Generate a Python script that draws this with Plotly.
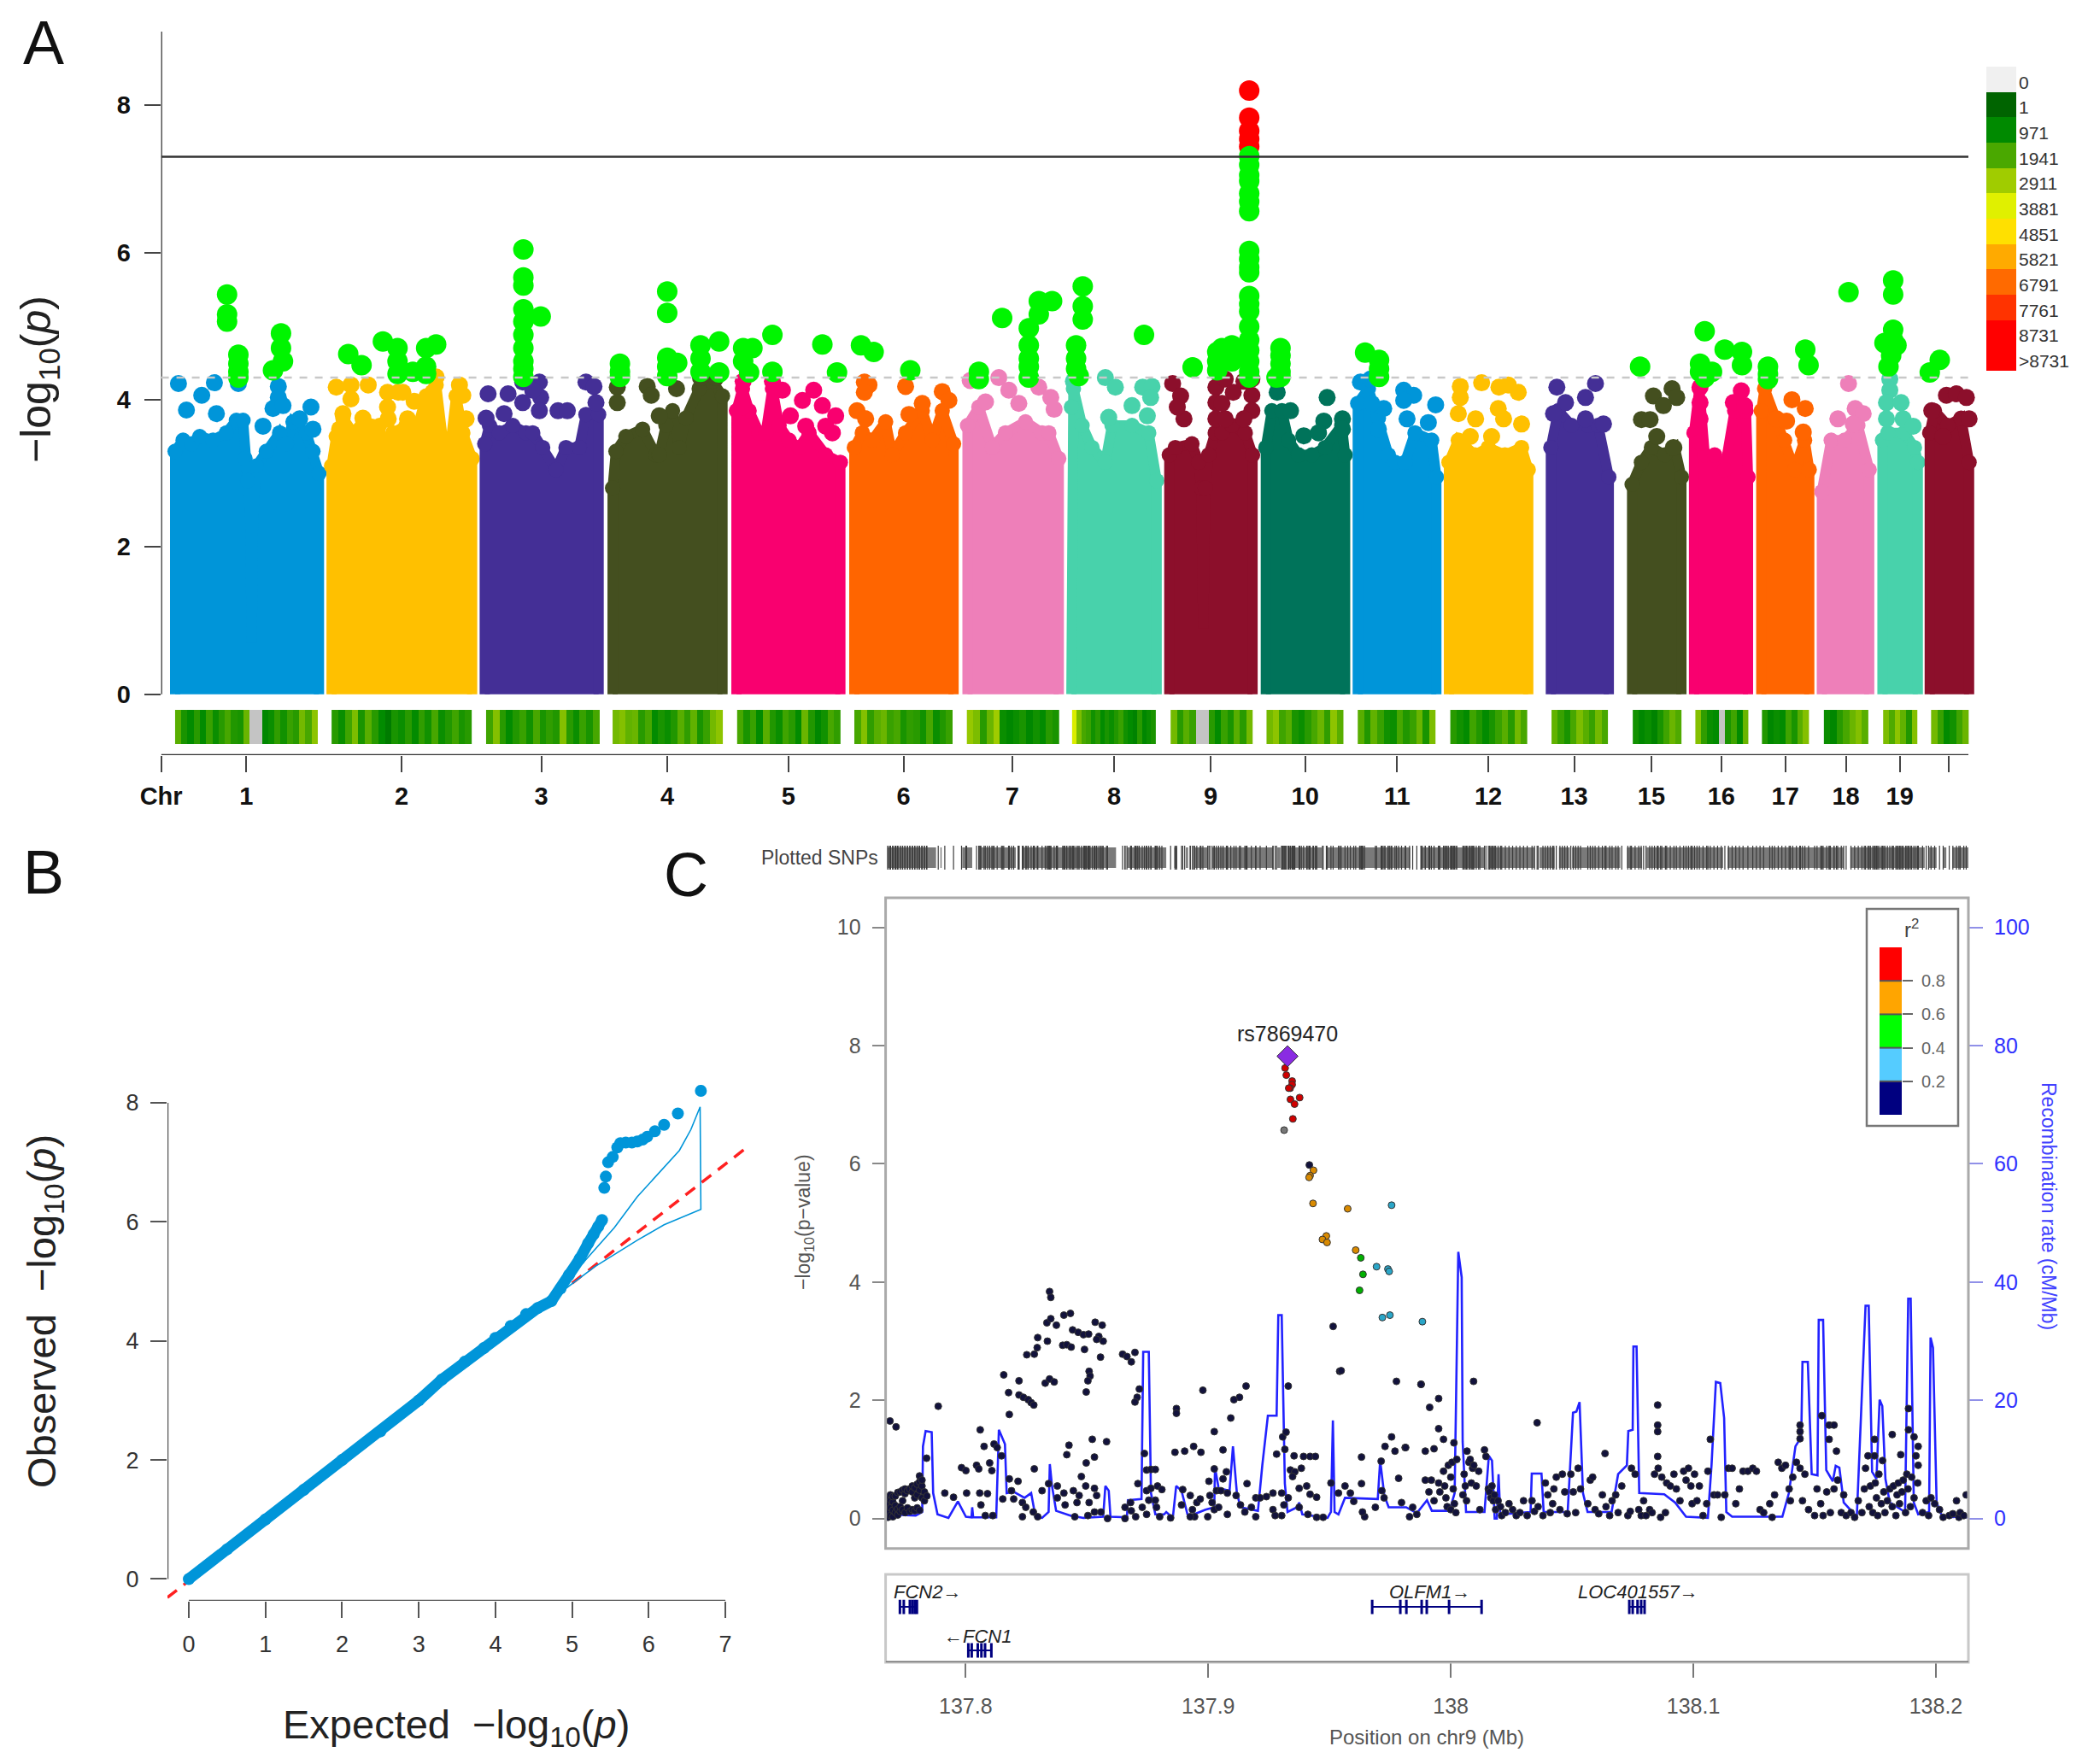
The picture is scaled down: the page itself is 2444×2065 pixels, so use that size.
import plotly.graph_objects as go

W, H = 2444, 2065

# ---------- panel A : manhattan ----------
chrom_labels = ["Chr", "1", "2", "3", "4", "5", "6", "7", "8", "9", "10", "11", "12", "13", "15", "16", "17", "18", "19", ""]
chrom_ticks = [242, 370, 603, 813, 1002, 1184, 1357, 1520, 1673, 1818, 1960, 2098, 2235, 2364, 2480, 2585, 2681, 2772, 2853, 2927]
chrom_colors = ["#0095D9", "#FFC000", "#442F96", "#444F1F", "#F9006F", "#FF6500", "#EE7FB9", "#48D2AB", "#8C0F2B", "#00735A",
                "#0095D9", "#FFC000", "#442F96", "#444F1F", "#F9006F", "#FF6500", "#EE7FB9", "#48D2AB", "#8C0F2B"]

env = [
    [(263, 0), (263, 3.3), (275, 3.45), (288, 3.4), (300, 3.5), (320, 3.45), (340, 3.55), (355, 3.72), (365, 3.72), (368, 3.2), (372, 2.9), (376, 2.4), (378, 0.7), (380, 2.4), (385, 3.1), (400, 3.3), (420, 3.55), (430, 3.4), (440, 3.7), (460, 3.55), (470, 3.3), (479, 3.0), (479, 0)],
    [(498, 0), (498, 3.1), (505, 3.5), (515, 3.75), (530, 3.55), (545, 3.7), (570, 3.65), (575, 3.35), (590, 3.55), (610, 3.65), (625, 3.55), (640, 4.05), (655, 4.2), (665, 3.45), (675, 3.25), (685, 4.05), (695, 3.55), (709, 3.2), (709, 0)],
    [(728, 0), (728, 3.4), (735, 3.65), (750, 3.55), (770, 3.65), (790, 3.55), (800, 3.55), (815, 3.35), (835, 3.05), (850, 3.35), (870, 3.35), (880, 3.8), (899, 3.8), (899, 0)],
    [(920, 0), (920, 2.8), (925, 3.3), (940, 3.5), (965, 3.6), (985, 3.25), (990, 3.25), (1000, 3.65), (1010, 3.85), (1020, 3.35), (1030, 3.75), (1050, 4.15), (1070, 4.25), (1085, 4.05), (1085, 0)],
    [(1106, 0), (1106, 3.85), (1115, 4.15), (1125, 3.85), (1140, 3.55), (1150, 3.55), (1160, 4.15), (1170, 3.65), (1185, 3.45), (1200, 3.35), (1215, 3.55), (1240, 3.25), (1262, 3.15), (1262, 0)],
    [(1283, 0), (1283, 3.35), (1295, 3.55), (1310, 3.45), (1330, 3.7), (1340, 3.25), (1360, 3.55), (1385, 3.85), (1400, 3.45), (1415, 3.85), (1432, 3.4), (1432, 0)],
    [(1453, 0), (1453, 3.65), (1470, 3.9), (1490, 3.35), (1510, 3.55), (1540, 3.7), (1565, 3.55), (1575, 3.55), (1590, 3.2), (1590, 0)],
    [(1609, 0), (1609, 3.9), (1612, 4.15), (1625, 3.65), (1640, 3.35), (1660, 3.15), (1670, 3.65), (1700, 3.65), (1725, 3.55), (1737, 2.9), (1737, 0)],
    [(1756, 0), (1756, 3.25), (1765, 3.35), (1790, 3.4), (1800, 3.15), (1804, 2.8), (1807, 0.9), (1810, 2.8), (1815, 3.25), (1825, 3.55), (1835, 3.55), (1850, 3.65), (1870, 3.55), (1881, 3.25), (1881, 0)],
    [(1901, 0), (1901, 3.35), (1910, 3.85), (1925, 3.85), (1935, 3.45), (1950, 3.25), (1970, 3.25), (1990, 3.35), (2015, 3.65), (2020, 3.25), (2020, 0)],
    [(2039, 0), (2039, 3.95), (2055, 4.15), (2070, 3.75), (2085, 3.25), (2095, 3.15), (2110, 3.15), (2125, 3.55), (2150, 3.45), (2157, 2.95), (2157, 0)],
    [(2176, 0), (2176, 3.15), (2190, 3.45), (2215, 3.25), (2235, 3.35), (2260, 3.25), (2285, 3.35), (2295, 3.05), (2295, 0)],
    [(2329, 0), (2329, 3.35), (2340, 3.85), (2360, 3.65), (2385, 3.65), (2400, 3.65), (2416, 2.95), (2416, 0)],
    [(2451, 0), (2451, 2.85), (2465, 3.15), (2480, 3.35), (2500, 3.25), (2515, 3.35), (2525, 2.95), (2525, 0)],
    [(2544, 0), (2544, 3.55), (2552, 4.15), (2560, 3.25), (2575, 3.25), (2590, 3.05), (2605, 3.85), (2622, 3.85), (2625, 2.95), (2625, 0)],
    [(2645, 0), (2645, 3.85), (2650, 4.15), (2665, 3.75), (2680, 3.45), (2695, 3.05), (2710, 3.45), (2717, 3.05), (2717, 0)],
    [(2736, 0), (2736, 2.75), (2750, 3.45), (2770, 3.45), (2790, 3.65), (2807, 3.05), (2807, 0)],
    [(2827, 0), (2827, 3.45), (2835, 3.55), (2860, 3.55), (2875, 3.35), (2880, 3.15), (2880, 0)],
    [(2898, 0), (2898, 3.55), (2905, 3.85), (2925, 3.65), (2945, 3.75), (2957, 3.15), (2957, 0)],
]

dots = [
    [(268, 4.22), (280, 3.86), (303, 4.06), (322, 4.23), (325, 3.81), (395, 3.64), (418, 4.18), (418, 4.03), (410, 3.88), (425, 3.92), (467, 3.9), (450, 3.74), (358, 4.22), (470, 3.6)],
    [(505, 4.17), (527, 4.2), (553, 4.2), (527, 4.01), (515, 3.81), (582, 4.1), (605, 4.1), (622, 3.98), (582, 3.9), (583, 3.74), (612, 3.74), (690, 4.2), (695, 4.06), (700, 3.74), (655, 4.31), (640, 3.74), (650, 4.1), (598, 4.1), (510, 3.6), (545, 3.75)],
    [(733, 4.08), (763, 4.08), (757, 3.81), (785, 4.24), (810, 4.24), (812, 4.03), (800, 4.13), (838, 3.85), (852, 3.85), (880, 4.24), (892, 4.18), (895, 3.96), (785, 3.96), (810, 3.85), (730, 3.75)],
    [(927, 4.17), (927, 3.96), (972, 4.18), (978, 4.06), (1016, 4.15), (990, 3.78), (1052, 4.3), (1075, 4.3)],
    [(1116, 4.25), (1175, 4.13), (1205, 3.99), (1222, 4.13), (1235, 3.92), (1187, 3.78), (1255, 3.78), (1210, 3.64), (1240, 3.64), (1160, 4.25), (1115, 3.9), (1250, 3.55)],
    [(1298, 4.24), (1305, 4.2), (1298, 4.1), (1287, 3.85), (1300, 3.74), (1360, 4.18), (1415, 4.11), (1425, 3.99), (1385, 3.95), (1365, 3.8)],
    [(1457, 4.26), (1500, 4.3), (1515, 4.13), (1480, 3.97), (1530, 3.95), (1560, 4.17), (1578, 4.03), (1583, 3.87)],
    [(1612, 4.25), (1660, 4.3), (1675, 4.17), (1716, 4.17), (1730, 4.18), (1700, 3.92), (1728, 4.03), (1665, 3.76), (1723, 3.78)],
    [(1761, 4.22), (1773, 4.05), (1778, 3.74), (1768, 3.9), (1826, 4.17), (1826, 3.96), (1826, 3.74), (1840, 4.28), (1852, 4.1), (1880, 4.28), (1880, 4.06), (1880, 3.85), (1868, 3.74), (1840, 3.74), (1835, 3.95), (1868, 4.25)],
    [(1918, 4.1), (1918, 4.25), (1938, 3.85), (1993, 4.03), (1988, 3.71), (1958, 3.51), (2016, 3.74), (2016, 3.6), (1980, 3.55)],
    [(2043, 4.24), (2058, 4.28), (2108, 4.13), (2123, 4.06), (2108, 3.99), (2156, 3.93), (2145, 3.69), (2078, 3.88), (2113, 3.74), (2060, 3.95), (2070, 3.6)],
    [(2193, 4.18), (2193, 4.03), (2225, 4.23), (2251, 4.17), (2265, 4.2), (2280, 4.1), (2250, 3.88), (2216, 3.74), (2258, 3.74), (2285, 3.67), (2190, 3.81), (2240, 3.5), (2208, 3.5)],
    [(2338, 4.17), (2396, 4.22), (2381, 4.03), (2351, 3.96), (2333, 3.81), (2381, 3.74), (2408, 3.67)],
    [(2483, 4.05), (2511, 4.15), (2518, 4.03), (2498, 3.92), (2465, 3.73), (2478, 3.73), (2488, 3.5), (2513, 3.35)],
    [(2553, 4.17), (2553, 3.96), (2553, 3.74), (2615, 4.12), (2603, 3.96), (2620, 3.92), (2553, 3.42)],
    [(2655, 4.25), (2691, 4.0), (2711, 3.88), (2668, 3.74), (2683, 3.71), (2708, 3.56)],
    [(2776, 4.22), (2760, 3.74), (2786, 3.88), (2798, 3.81), (2783, 3.67)],
    [(2838, 4.28), (2838, 4.13), (2833, 3.96), (2855, 3.96), (2858, 3.74), (2873, 3.64), (2833, 3.74)],
    [(2923, 4.06), (2938, 4.08), (2953, 4.03), (2901, 3.85), (2957, 3.74), (2918, 3.5)],
]

green_hits = [
    (341, 5.43), (341, 5.16), (341, 5.06), (358, 4.61), (358, 4.49), (358, 4.38), (358, 4.30), (422, 4.9), (422, 4.7), (425, 4.52), (410, 4.4),
    (523, 4.62), (543, 4.47), (575, 4.79), (597, 4.7), (597, 4.52), (597, 4.35), (620, 4.38), (640, 4.7), (655, 4.75), (640, 4.45), (640, 4.35),
    (786, 6.04), (786, 5.66), (786, 5.55), (786, 5.23), (786, 5.06), (812, 5.13), (786, 4.88), (786, 4.7), (786, 4.52), (786, 4.42), (786, 4.31),
    (931, 4.49), (931, 4.38), (931, 4.31), (1002, 5.47), (1002, 5.18), (1002, 4.57), (1002, 4.45), (1002, 4.32), (1017, 4.5), (1052, 4.74), (1052, 4.56), (1052, 4.38), (1080, 4.79), (1080, 4.37),
    (1116, 4.7), (1130, 4.7), (1116, 4.52), (1125, 4.37), (1160, 4.88), (1160, 4.38), (1235, 4.75), (1257, 4.37),
    (1293, 4.74), (1312, 4.65), (1367, 4.4),
    (1470, 4.38), (1470, 4.28), (1505, 5.11), (1545, 4.97), (1545, 4.74), (1545, 4.56), (1545, 4.45), (1545, 4.3), (1560, 5.34), (1560, 5.16), (1580, 5.34),
    (1626, 5.54), (1626, 5.27), (1626, 5.09), (1616, 4.74), (1616, 4.56), (1616, 4.42), (1620, 4.32), (1718, 4.88),
    (1791, 4.44), (1828, 4.65), (1828, 4.52), (1828, 4.4), (1835, 4.7), (1850, 4.74), (1850, 4.52), (1860, 4.6), (1868, 4.65),
    (1876, 7.31), (1876, 7.19), (1876, 7.05), (1876, 6.97), (1876, 6.8), (1876, 6.69), (1876, 6.56), (1876, 6.02), (1876, 5.91), (1876, 5.8), (1876, 5.73), (1876, 5.41), (1876, 5.3), (1876, 5.2), (1876, 4.99), (1876, 4.81), (1876, 4.67), (1876, 4.52), (1876, 4.38), (1876, 4.3),
    (1923, 4.7), (1923, 4.6), (1923, 4.49), (1923, 4.38), (1923, 4.31), (1917, 4.3),
    (2050, 4.64), (2071, 4.54), (2071, 4.42), (2071, 4.31),
    (2463, 4.45),
    (2560, 4.93), (2553, 4.49), (2553, 4.38), (2571, 4.38), (2560, 4.3), (2590, 4.68), (2616, 4.65), (2616, 4.47),
    (2655, 4.45), (2655, 4.35), (2655, 4.28), (2711, 4.68), (2716, 4.47),
    (2776, 5.46),
    (2843, 5.62), (2843, 5.43), (2843, 4.95), (2843, 4.81), (2830, 4.77), (2848, 4.74), (2840, 4.6), (2836, 4.45),
    (2913, 4.54), (2898, 4.37),
]
red_hits = [(1876, 8.2), (1876, 7.83), (1876, 7.65), (1876, 7.54), (1876, 7.44)]

# SNP density strip under the manhattan (one list per chromosome, gaps between them)
strip_span = [(263, 477), (498, 708), (730, 900), (920, 1086), (1107, 1262), (1283, 1431), (1452, 1590), (1610, 1736), (1758, 1881), (1902, 2018),
              (2039, 2156), (2178, 2294), (2330, 2415), (2452, 2525), (2546, 2626), (2646, 2717), (2739, 2806), (2828, 2879), (2900, 2956)]
strip_density = [
    [2100, 1300, 1000, 1500, 1000, 1700, 1100, 1500, 1900, 1400, 1300, 2300, 0, 0, 900, 1100, 1600, 1200, 1700, 1500, 2400, 1900, 2700],
    [1500, 1100, 1800, 2500, 1300, 2100, 1500, 1000, 600, 1300, 1100, 1500, 1000, 1600, 1200, 1900, 1100, 1400, 1800, 1300, 1500],
    [1800, 2600, 1500, 1000, 1400, 1700, 1200, 1900, 1300, 1600, 1400, 2600, 1500, 1100, 1700, 1300, 1900],
    [2400, 2600, 2200, 2300, 1500, 1900, 1000, 1300, 1100, 1400, 2100, 1600, 2200, 1300, 1700, 2400, 2700],
    [1900, 1300, 1700, 1000, 2100, 1400, 1100, 1800, 1500, 1000, 2300, 1400, 900, 1200, 1900, 1600],
    [1900, 2600, 1600, 2100, 2300, 1700, 1900, 1300, 1600, 1500, 1200, 1900, 1100, 1400, 1700],
    [2800, 2500, 1500, 2300, 2900, 1100, 900, 1100, 1300, 900, 1200, 1000, 1500, 1300],
    [3800, 2500, 1900, 1700, 1200, 1500, 1000, 1300, 1100, 1400, 1700, 1200, 1000, 800, 1500, 900, 1100, 1300],
    [2400, 1500, 2100, 1700, 0, 0, 1500, 1000, 1700, 1300, 2100, 1500, 2400],
    [2400, 2700, 1800, 2100, 1300, 1100, 1500, 1900, 2300, 1600, 2700, 2100],
    [2100, 1400, 2200, 1700, 1200, 1100, 1900, 1400, 1700, 2300, 1300, 2500],
    [1500, 1200, 1000, 1800, 1400, 1000, 1300, 1700, 2100, 1500, 2400, 1900],
    [2200, 1700, 1300, 1900, 2500, 2100, 1700, 2400, 1900],
    [1200, 900, 1100, 800, 1300, 1800, 2300, 2000],
    [2600, 1600, 1100, 1000, 0, 1300, 1800, 1000, 2300],
    [1400, 900, 1100, 1000, 1800, 1300, 2100, 2600],
    [1100, 900, 1500, 1900, 2300, 2600, 2100],
    [2500, 2000, 2700, 2200, 1400, 2600],
    [2400, 1700, 1000, 1200, 1800, 2300],
]

level_values = [0, 1, 971, 1941, 2911, 3881, 4851, 5821, 6791, 7761, 8731, 9700]
level_colors = ["#f0f0f0", "#006400", "#008a00", "#4aa800", "#a0cc00", "#e0f000", "#ffe000", "#ffaa00", "#ff6a00", "#ff3300", "#ff0000", "#ff0000"]
level_labels = ["0", "1", "971", "1941", "2911", "3881", "4851", "5821", "6791", "7761", "8731", ">8731"]

# ---------- panel B : qq plot ----------
qq_exp = [0, 0.5, 1, 1.5, 2, 2.5, 3, 3.3, 3.6, 3.85, 4, 4.2, 4.4, 4.55, 4.73, 4.85, 4.96, 5.1, 5.21, 5.28, 5.34, 5.39,
          5.42, 5.44, 5.47, 5.53, 5.59, 5.63, 5.7, 5.78, 5.85, 5.92, 5.98, 6.08, 6.2, 6.38, 6.68]
qq_obs = [0, 0.5, 1, 1.5, 2, 2.48, 3.0, 3.35, 3.65, 3.88, 4.05, 4.25, 4.45, 4.55, 4.67, 4.88, 5.11, 5.38, 5.64, 5.79, 5.92, 6.03,
          6.57, 6.76, 7.0, 7.09, 7.25, 7.32, 7.33, 7.33, 7.35, 7.38, 7.43, 7.52, 7.63, 7.82, 8.2]
ci_exp = [4.7, 5.21, 5.55, 5.85, 6.15, 6.4, 6.55, 6.67, 6.68, 6.2, 5.85, 5.3, 4.7]
ci_obs = [4.67, 5.4, 5.9, 6.42, 6.85, 7.2, 7.55, 7.93, 6.21, 5.95, 5.69, 5.25, 4.67]

# ---------- panel C : regional plot ----------
lead_snp = (137.9327, 7.82)
r2_red = [(137.9317, 7.62), (137.9322, 7.5), (137.9346, 7.4), (137.9346, 7.34), (137.9338, 7.28), (137.9332, 7.28), (137.9339, 7.09), (137.9377, 7.12), (137.9356, 7.01), (137.9349, 6.76)]
r2_grey = [(137.9313, 6.57)]
r2_orange = [(137.9434, 5.89), (137.942, 5.8), (137.9416, 5.77), (137.9432, 5.33), (137.9575, 5.24), (137.9487, 4.78), (137.9471, 4.72), (137.949, 4.67), (137.9608, 4.54)]
r2_green = [(137.9629, 4.41), (137.9638, 4.13), (137.9624, 3.86)]
r2_cyan = [(137.9756, 5.3), (137.9694, 4.26), (137.9741, 4.22), (137.9746, 4.18), (137.9718, 3.4), (137.9749, 3.44), (137.9883, 3.33)]
r2_navy = [
    (137.9417, 5.98), (137.9515, 3.25), (137.9542, 2.49), (137.9548, 2.5), (137.933, 2.24), (137.9776, 2.32), (137.9878, 2.27),
    (137.7688, 1.65), (137.7713, 1.55), (137.7887, 1.9), (137.806, 1.5), (137.8076, 1.22), (137.8117, 1.26), (137.813, 1.2),
    (137.8157, 2.43), (137.822, 2.33), (137.8177, 2.13), (137.818, 1.76), (137.822, 2.09), (137.8238, 2.05), (137.8258, 2.01), (137.827, 1.96), (137.8281, 1.92),
    (137.8252, 2.77), (137.8283, 2.78), (137.8295, 2.89), (137.8297, 3.06), (137.8337, 3.0), (137.8346, 3.84), (137.8351, 3.74), (137.8335, 3.31), (137.8351, 3.38), (137.8374, 3.27),
    (137.8328, 2.29), (137.8346, 2.36), (137.8365, 2.31), (137.8405, 3.44), (137.8432, 3.47), (137.84, 2.93), (137.8417, 2.94), (137.8435, 2.9),
    (137.8441, 3.19), (137.8464, 3.15), (137.8486, 3.11), (137.8507, 3.12), (137.849, 2.86), (137.8534, 3.32), (137.8563, 3.27), (137.8549, 3.08), (137.8567, 3.0), (137.854, 3.03), (137.8556, 2.73),
    (137.8509, 2.49), (137.8513, 2.41), (137.8504, 2.33), (137.8497, 2.14), (137.8647, 2.78), (137.8698, 2.81), (137.8683, 2.65), (137.8665, 2.74),
    (137.8716, 2.19), (137.8707, 2.05), (137.8698, 1.97), (137.8869, 1.86), (137.8869, 1.78), (137.8978, 2.17), (137.9156, 2.24), (137.9129, 2.05), (137.9106, 2.01), (137.9093, 1.7), (137.9025, 1.47),
    (137.9877, 2.27), (137.9913, 1.88), (137.995, 2.03), (137.995, 1.52), (137.997, 1.34), (138.0013, 1.28), (137.9814, 1.2), (137.9895, 1.14), (137.9931, 1.18), (138.0067, 1.14), (138.0139, 1.16),
    (138.0094, 2.32), (138.0356, 1.62), (138.0636, 1.1), (138.0853, 1.92), (138.0853, 1.58), (138.0853, 1.47), (138.0853, 1.05), (138.107, 1.34), (138.153, 1.74), (138.156, 1.58), (138.158, 1.58),
    (138.156, 1.34), (138.159, 1.14), (138.144, 1.58), (138.144, 1.47), (138.144, 1.35), (138.1887, 1.86), (138.1887, 1.5), (138.191, 1.38), (138.182, 1.42), (138.1747, 1.34), (138.1855, 1.08),
    (138.1927, 1.22), (138.1918, 1.06), (138.1927, 0.9), (138.172, 1.06), (138.1747, 1.06), (138.178, 0.98),
]
r2_navy_low = [
    (137.768, 0.02), (137.768, 0.12), (137.768, 0.25), (137.768, 0.35), (137.769, 0.05), (137.769, 0.18), (137.769, 0.31), (137.769, 0.4), (137.77, 0.03), (137.77, 0.14), (137.77, 0.28), (137.77, 0.37),
    (137.771, 0.1), (137.771, 0.22), (137.771, 0.38), (137.772, 0.06), (137.772, 0.16), (137.772, 0.44), (137.773, 0.12), (137.773, 0.45), (137.773, 0.2), (137.774, 0.15), (137.774, 0.3), (137.774, 0.48),
    (137.775, 0.1), (137.775, 0.42), (137.775, 0.5), (137.776, 0.18), (137.776, 0.47), (137.777, 0.12), (137.777, 0.5), (137.778, 0.15), (137.778, 0.45), (137.778, 0.55), (137.779, 0.13), (137.779, 0.35), (137.779, 0.52),
    (137.78, 0.18), (137.78, 0.4), (137.78, 0.58), (137.781, 0.14), (137.781, 0.48), (137.781, 0.62), (137.781, 0.72), (137.782, 0.35), (137.782, 0.55), (137.782, 0.65), (137.783, 0.3), (137.783, 0.45), (137.7839, 1.02), (137.784, 0.38),
    (137.7914, 0.43), (137.795, 0.36), (137.8004, 0.43), (137.7983, 0.86), (137.8001, 0.81), (137.8045, 0.9), (137.8054, 0.84), (137.8099, 0.94), (137.8108, 0.81), (137.8058, 0.43), (137.809, 0.42), (137.8063, 0.23), (137.8081, 0.05), (137.8112, 0.05),
    (137.8148, 1.06), (137.8153, 0.33), (137.818, 0.67), (137.8216, 0.63), (137.8189, 0.47), (137.8198, 0.33), (137.8283, 0.84), (137.8234, 0.27), (137.8248, 0.19), (137.8234, 0.03), (137.8279, 0.11), (137.8297, 0.03),
    (137.8315, 0.47), (137.8342, 0.59), (137.8378, 0.55), (137.8378, 0.35), (137.8405, 0.43), (137.8417, 1.08), (137.8426, 1.24), (137.8410, 0.23), (137.8444, 0.47), (137.8459, 0.27), (137.845, 0.03), (137.8468, 0.39),
    (137.8477, 0.71), (137.8495, 0.55), (137.8497, 0.94), (137.8522, 1.34), (137.8531, 1.04), (137.8581, 1.3), (137.8531, 0.51), (137.854, 0.39), (137.8509, 0.27), (137.8531, 0.11), (137.8504, 0.05), (137.8558, 0.11), (137.8585, 0.0),
    (137.8657, 0.19), (137.8657, 0.0), (137.868, 0.27), (137.8683, 0.13), (137.871, 0.59), (137.8728, 0.19), (137.8701, 0.03), (137.8737, 1.1), (137.8746, 0.82), (137.8764, 0.83), (137.8782, 0.83), (137.8746, 0.47), (137.8764, 0.51), (137.8791, 0.55),
    (137.8809, 0.49), (137.8782, 0.31), (137.8755, 0.31), (137.8787, 0.19), (137.8746, 0.07), (137.88, 0.03), (137.8845, 0.01), (137.8863, 1.12), (137.8903, 1.14), (137.894, 1.22), (137.897, 1.12),
    (137.8895, 0.49), (137.889, 0.23), (137.8926, 0.39), (137.8935, 0.15), (137.8944, 0.03), (137.8953, 0.27), (137.8967, 0.33), (137.8926, 0.03), (137.9003, 0.63), (137.9025, 0.84), (137.9034, 0.47), (137.9007, 0.39), (137.9016, 0.27), (137.9025, 0.15), (137.8998, 0.03),
    (137.9061, 1.16), (137.9061, 0.67), (137.9075, 0.79), (137.9052, 0.47), (137.9079, 0.43), (137.9043, 0.19), (137.9079, 0.07), (137.9115, 0.39), (137.9133, 0.23), (137.916, 0.59), (137.9151, 0.11), (137.9178, 0.19), (137.9196, 0.35), (137.9214, 0.35), (137.9196, 0.03),
    (137.924, 0.37), (137.9267, 0.43), (137.9267, 0.15), (137.9276, 0.05), (137.9307, 1.38), (137.9321, 1.46), (137.9316, 1.17), (137.9282, 1.09), (137.9354, 1.06), (137.9393, 1.05), (137.942, 1.05), (137.9442, 1.05),
    (137.9303, 0.43), (137.933, 0.35), (137.9339, 0.82), (137.9357, 0.79), (137.9384, 0.85), (137.9348, 0.71), (137.9375, 0.51), (137.9406, 0.55), (137.942, 0.41), (137.9447, 0.36), (137.9312, 0.23), (137.9303, 0.05), (137.9375, 0.19), (137.9411, 0.07), (137.9447, 0.02), (137.9474, 0.02),
    (137.9506, 0.6), (137.9537, 0.43), (137.9564, 0.55), (137.9586, 0.43), (137.96, 0.29), (137.9632, 0.59), (137.9632, 1.04), (137.9645, 0.03), (137.9636, 0.11), (137.9729, 1.22), (137.9756, 1.38), (137.977, 1.14), (137.9812, 1.2), (137.9785, 0.68), (137.9713, 0.97),
    (137.9716, 0.47), (137.9689, 0.19), (137.9725, 0.35), (137.9797, 0.27), (137.986, 0.07), (137.983, 0.03), (137.9843, 0.19),
    (137.9895, 0.65), (137.991, 0.45), (137.992, 0.65), (137.9931, 0.3), (137.995, 0.6), (137.9955, 0.45), (137.997, 0.8), (137.9975, 0.55), (137.998, 0.35), (137.9985, 0.2), (137.999, 0.9), (138.0, 0.7), (138.0, 0.15), (138.0005, 0.95), (138.001, 0.5), (138.0015, 0.25), (138.0021, 0.1), (138.0025, 1.0),
    (138.005, 0.4), (138.0055, 0.75), (138.006, 0.55), (138.0065, 0.3), (138.0075, 0.95), (138.008, 1.0), (138.0085, 0.6), (138.009, 0.85), (138.0095, 0.9), (138.0105, 0.55), (138.0115, 0.8), (138.012, 0.15),
    (138.0145, 1.05), (138.0155, 0.5), (138.016, 0.45), (138.0165, 0.35), (138.017, 0.55), (138.0175, 0.3), (138.018, 0.4), (138.0185, 0.15), (138.0195, 0.3), (138.0205, 0.2), (138.021, 0.05), (138.0225, 0.1), (138.024, 0.25), (138.0255, 0.15), (138.027, 0.05), (138.0285, 0.1), (138.03, 0.3), (138.0315, 0.05),
    (138.0335, 0.3), (138.0345, 0.12), (138.036, 0.2), (138.038, 0.05), (138.039, 0.6), (138.04, 0.4), (138.041, 0.1), (138.042, 0.25), (138.0425, 0.5), (138.0435, 0.7), (138.045, 0.15), (138.046, 0.75), (138.047, 0.45), (138.048, 0.08), (138.0495, 0.75), (138.0505, 0.45), (138.0515, 0.1), (138.0525, 0.85), (138.0535, 0.5),
    (138.0565, 0.25), (138.0575, 0.65), (138.0585, 0.7), (138.0595, 0.15), (138.061, 0.08), (138.0625, 0.4), (138.064, 0.2), (138.0655, 0.05), (138.0665, 0.3), (138.068, 0.4), (138.069, 0.1), (138.0705, 0.55),
    (138.073, 0.05), (138.074, 0.12), (138.0745, 0.85), (138.076, 0.75), (138.0775, 0.15), (138.0785, 0.05), (138.0795, 0.3), (138.0805, 0.05), (138.082, 0.15), (138.083, 0.1), (138.084, 0.75), (138.0855, 0.85), (138.0865, 0.02), (138.087, 0.7), (138.0885, 0.1),
    (138.089, 0.6), (138.0905, 0.55), (138.092, 0.75), (138.093, 0.5), (138.0945, 0.3), (138.096, 0.8), (138.097, 0.65), (138.098, 0.85), (138.099, 0.55), (138.0995, 0.25), (138.1005, 0.75), (138.1015, 0.3), (138.1025, 0.55), (138.104, 0.05), (138.1055, 0.25), (138.106, 0.8),
    (138.1085, 0.4), (138.11, 0.4), (138.1115, 0.02), (138.113, 0.4), (138.1145, 0.85), (138.116, 0.85), (138.1175, 0.25), (138.119, 0.5), (138.1205, 0.8), (138.1225, 0.8), (138.1245, 0.85), (138.126, 0.8), (138.1275, 0.15), (138.129, 0.1),
    (138.1315, 0.25), (138.1325, 0.02), (138.1335, 0.4), (138.135, 0.95), (138.1365, 0.85), (138.138, 0.9), (138.1395, 0.5), (138.14, 0.3), (138.141, 0.7), (138.1425, 0.95), (138.144, 0.85), (138.145, 0.3), (138.146, 0.75), (138.1475, 0.15),
    (138.15, 0.05), (138.151, 0.5), (138.1525, 0.25), (138.1535, 0.05), (138.155, 0.45), (138.1565, 0.1), (138.158, 0.5), (138.1595, 0.65), (138.161, 0.1), (138.162, 0.4), (138.163, 0.05), (138.165, 0.1), (138.1665, 0.02),
    (138.168, 0.3), (138.1695, 0.1), (138.1705, 0.5), (138.171, 0.85), (138.1725, 0.2), (138.173, 0.55), (138.174, 0.1), (138.175, 0.6), (138.1755, 0.35), (138.176, 0.05), (138.1765, 0.75), (138.1775, 0.25), (138.1785, 0.45), (138.179, 0.1), (138.18, 0.3),
    (138.181, 0.5), (138.182, 0.2), (138.1825, 0.55), (138.1835, 0.05), (138.184, 0.4), (138.1845, 0.6), (138.185, 0.25), (138.186, 0.45), (138.1865, 0.65), (138.1875, 0.1), (138.188, 0.75), (138.1885, 0.5), (138.1895, 0.2), (138.19, 0.7), (138.191, 0.35), (138.1925, 0.6),
    (138.1945, 0.1), (138.196, 0.3), (138.197, 0.05), (138.198, 0.35), (138.1995, 0.25), (138.2015, 0.15), (138.203, 0.02), (138.2055, 0.05), (138.207, 0.08), (138.2085, 0.3), (138.2095, 0.02), (138.21, 0.1), (138.2115, 0.05), (138.2125, 0.4),
]

recomb_mb = [
    137.7672, 137.7749, 137.7794, 137.7821, 137.7824, 137.7835, 137.786, 137.7866, 137.7884, 137.7929, 137.7968, 137.8001, 137.8024, 137.8027, 137.8031, 137.8126, 137.8137, 137.8162, 137.8169, 137.8198,
    137.8243, 137.827, 137.8288, 137.8315, 137.8342, 137.8347, 137.8356, 137.8373, 137.8432, 137.8486, 137.8567, 137.8576, 137.859, 137.8597, 137.8665, 137.8669, 137.8725, 137.8732, 137.8755, 137.8764,
    137.8782, 137.8818, 137.8827, 137.8854, 137.8868, 137.889, 137.8917, 137.8989, 137.9025, 137.9028, 137.9043, 137.9088, 137.9102, 137.9118, 137.9133, 137.9205, 137.9223, 137.9246, 137.9282, 137.9289,
    137.9303, 137.9316, 137.9327, 137.9366, 137.9375, 137.9388, 137.9492, 137.9506, 137.9514, 137.9521, 137.9537, 137.9564, 137.9699, 137.9709, 137.9726, 137.9744, 137.9816, 137.986, 137.9902, 137.9922,
    137.9995, 138.0016, 138.0031, 138.0045, 138.0049, 138.0063, 138.0139, 138.0157, 138.017, 138.0181, 138.019, 138.0197, 138.0204, 138.0329, 138.0334, 138.0374, 138.0383, 138.0482, 138.0504, 138.0518,
    138.0531, 138.0545, 138.0564, 138.0663, 138.069, 138.0726, 138.0732, 138.075, 138.0753, 138.0766, 138.0777, 138.088, 138.0925, 138.097, 138.106, 138.1075, 138.1093, 138.1111, 138.1127, 138.1136,
    138.116, 138.1367, 138.1394, 138.1421, 138.1445, 138.145, 138.1472, 138.1488, 138.1512, 138.1517, 138.1535, 138.1548, 138.1575, 138.1587, 138.1602, 138.162, 138.1674, 138.171, 138.1723, 138.1737,
    138.1755, 138.1768, 138.1779, 138.1792, 138.181, 138.1873, 138.1886, 138.1896, 138.1909, 138.1927, 138.1972, 138.1978, 138.1988, 138.2003, 138.2026, 138.2135,
]
recomb_rate = [
    0.7, 0.6, 0.5, 1.1, 12.2, 14.8, 14.6, 4.3, 0.7, 0.1, 2.9, 0.3, 0.2, 1.9, 0.2, 0.2, 15.0, 12.6, 4.3, 4.5,
    3.5, 4.3, 0.3, 0.1, 1.1, 9.2, 5.5, 1.3, 0.5, 0.1, 0.3, 5.5, 4.7, 0.3, 0.2, 3.1, 3.3, 28.2, 28.2, 4.3,
    0.7, 0.7, 1.1, 0.1, 5.5, 4.7, 0.3, 1.5, 1.9, 8.6, 5.1, 4.7, 12.2, 4.4, 1.9, 1.3, 9.0, 17.4, 17.4, 34.4,
    34.4, 5.9, 1.1, 1.9, 2.7, 0.7, 0.1, 1.1, 16.6, 1.1, 0.7, 3.5, 3.3, 9.8, 3.9, 1.9, 1.9, 0.9, 3.1, 1.3,
    1.3, 4.3, 45.1, 40.8, 13.0, 1.1, 1.1, 10.6, 9.8, 0.0, 0.0, 7.5, 0.7, 1.1, 7.6, 7.6, 1.1, 1.1, 17.9, 18.1,
    19.7, 4.3, 1.1, 1.1, 7.5, 9.0, 14.8, 15.0, 29.1, 29.1, 4.3, 4.1, 2.7, 0.3, 0.1, 9.0, 23.1, 22.9, 17.0, 1.1,
    0.3, 0.3, 4.3, 12.2, 13.8, 26.5, 26.5, 7.5, 7.3, 33.6, 33.6, 8.2, 6.3, 8.9, 8.6, 2.7, 0.3, 36.0, 36.0, 7.9,
    6.7, 20.1, 19.0, 6.7, 2.7, 1.1, 37.2, 37.2, 2.7, 0.7, 1.1, 30.6, 28.9, 2.7, 0.3, 0.2,
]

rug_start = [137.7677, 137.7896, 137.7914, 137.7932, 137.7959, 137.7974, 137.7986, 137.8063, 137.8234, 137.8665, 137.886, 137.8908, 137.8944, 137.9016, 137.9285, 137.9327, 137.9488, 137.9877, 138.0157, 138.0365, 138.0446, 138.05, 138.0726, 138.0807, 138.1141, 138.1647, 138.1972, 138.2032, 138.2068]
rug_end = [137.7878, 137.7901, 137.7918, 137.7936, 137.7963, 137.7978, 137.8027, 137.8207, 137.862, 137.8827, 137.8872, 137.8917, 137.8998, 137.9267, 137.9298, 137.9469, 137.9833, 138.0139, 138.0347, 138.0428, 138.0491, 138.0699, 138.0789, 138.1123, 138.162, 138.1954, 138.2003, 138.2043, 138.2135]

r2_edges = [0, 0.2, 0.4, 0.6, 0.8, 1.0]
r2_colors = ["#000080", "#55ccff", "#00ff00", "#ffa500", "#ff0000"]

genes = [
    ("FCN2", [(137.7729, 137.7799)], [137.7729, 137.7745, 137.777, 137.778, 137.779, 137.7799], 0.63),
    ("FCN1", [(137.8011, 137.8106)], [137.8011, 137.8025, 137.805, 137.8065, 137.808, 137.8106], 0.136),
    ("OLFM1", [(137.9676, 138.0127)], [137.9676, 137.9792, 137.9817, 137.988, 137.9901, 137.9993, 138.0127], 0.63),
    ("LOC401557", [(138.0736, 138.0799)], [138.0736, 138.075, 138.077, 138.0785, 138.0799], 0.63),
]


def dx(a, b):
    return [a / W, b / W]


def dy(top, bottom):
    return [1 - bottom / H, 1 - top / H]


fig = go.Figure()

# manhattan
for i, pts in enumerate(env):
    col = chrom_colors[i]
    fig.add_trace(go.Scatter(x=[p[0] for p in pts], y=[p[1] for p in pts], mode="lines", fill="toself", fillcolor=col,
                             line=dict(color=col, width=12), hoverinfo="skip", showlegend=False, xaxis="x", yaxis="y"))
    rim = [p for p in pts if p[1] > 2.6]
    fig.add_trace(go.Scatter(x=[p[0] for p in rim], y=[p[1] for p in rim], mode="markers",
                             marker=dict(color=col, size=18), hoverinfo="skip", showlegend=False, xaxis="x", yaxis="y"))
    fig.add_trace(go.Scatter(x=[p[0] for p in dots[i]], y=[p[1] for p in dots[i]], mode="markers",
                             marker=dict(color=col, size=20), hoverinfo="skip", showlegend=False, xaxis="x", yaxis="y"))
fig.add_trace(go.Scatter(x=[p[0] for p in red_hits], y=[p[1] for p in red_hits], mode="markers",
                         marker=dict(color="#ff0000", size=24), showlegend=False, xaxis="x", yaxis="y"))
fig.add_trace(go.Scatter(x=[p[0] for p in green_hits], y=[p[1] for p in green_hits], mode="markers",
                         marker=dict(color="#00f500", size=24), showlegend=False, xaxis="x", yaxis="y"))

strip_scale = [[0, "#c4c4c4"]] + [[v / 9700, c] for v, c in zip(level_values[1:], level_colors[1:])]
for span, vals in zip(strip_span, strip_density):
    step = (span[1] - span[0]) / len(vals)
    edges = [span[0] + step * k for k in range(len(vals) + 1)]
    fig.add_trace(go.Heatmap(x=edges, y=[-0.677, -0.213], z=[vals], zmin=0, zmax=9700, colorscale=strip_scale,
                             showscale=False, hoverinfo="skip", xaxis="x", yaxis="y"))

# colour key of panel A
fig.add_trace(go.Heatmap(x=[0], y=list(range(12)), z=[[k] for k in range(12)], zmin=0, zmax=11,
                         colorscale=[[k / 11, c] for k, c in enumerate(level_colors)], showscale=False,
                         hoverinfo="skip", xaxis="x2", yaxis="y2"))

# qq
fig.add_trace(go.Scatter(x=[-0.28, 7.25], y=[-0.31, 7.22], mode="lines", line=dict(color="#ff2020", width=3.5, dash="14px,10px"),
                         showlegend=False, xaxis="x3", yaxis="y3"))
fig.add_trace(go.Scatter(x=ci_exp, y=ci_obs, mode="lines", line=dict(color="#0095D9", width=1.6),
                         showlegend=False, xaxis="x3", yaxis="y3"))
fig.add_trace(go.Scatter(x=qq_exp[:22], y=qq_obs[:22], mode="lines", line=dict(color="#0095D9", width=13),
                         showlegend=False, xaxis="x3", yaxis="y3"))
fig.add_trace(go.Scatter(x=qq_exp, y=qq_obs, mode="markers", marker=dict(color="#0095D9", size=14),
                         showlegend=False, xaxis="x3", yaxis="y3"))

# recombination rate sits on the base axis so the SNPs draw over it
fig.add_trace(go.Scatter(x=recomb_mb, y=recomb_rate, mode="lines", line=dict(color="#2222ff", width=2.6),
                         showlegend=False, xaxis="x4", yaxis="y4"))
for pts, col in [(r2_navy_low, "#12123c"), (r2_navy, "#12123c"), (r2_grey, "#777777"), (r2_cyan, "#2aa6c8"), (r2_green, "#00b000"),
                 (r2_orange, "#d98a00"), (r2_red, "#d00000")]:
    fig.add_trace(go.Scatter(x=[p[0] for p in pts], y=[p[1] for p in pts], mode="markers",
                             marker=dict(color=col, size=8, line=dict(color="#333333", width=1)),
                             showlegend=False, xaxis="x4", yaxis="y5"))
fig.add_trace(go.Scatter(x=[lead_snp[0]], y=[lead_snp[1]], mode="markers",
                         marker=dict(color="#8a2be2", size=19, symbol="diamond", line=dict(color="#333333", width=1)),
                         showlegend=False, xaxis="x4", yaxis="y5"))

# plotted SNPs rug
rug_x, rug_y = [], []
for a, b in zip(rug_start, rug_end):
    rug_x += [a, b, None]
    rug_y += [0.5, 0.5, None]
fig.add_trace(go.Scatter(x=rug_x, y=rug_y, mode="lines", line=dict(color="#7a7a7a", width=24),
                         showlegend=False, xaxis="x5", yaxis="y6"))
all_snps = [p[0] for p in r2_navy_low + r2_navy + r2_red + r2_orange + r2_green + r2_cyan + r2_grey]
fig.add_trace(go.Scatter(x=all_snps, y=[0.5] * len(all_snps), mode="markers",
                         marker=dict(symbol="line-ns", size=24, line=dict(color="#3c3c3c", width=1.2)),
                         showlegend=False, xaxis="x5", yaxis="y6"))

# genes
for name, spans, exons, row in genes:
    fig.add_trace(go.Scatter(x=[spans[0][0], spans[0][1]], y=[row, row], mode="lines", line=dict(color="#000080", width=2),
                             showlegend=False, xaxis="x6", yaxis="y7"))
    fig.add_trace(go.Scatter(x=exons, y=[row] * len(exons), mode="markers",
                             marker=dict(symbol="line-ns", size=12, line=dict(color="#000080", width=3)),
                             showlegend=False, xaxis="x6", yaxis="y7"))

# r2 key
fig.add_trace(go.Heatmap(x=[0], y=r2_edges, z=[[k] for k in range(5)], zmin=0, zmax=4,
                         colorscale=[[k / 4, c] for k, c in enumerate(r2_colors)], showscale=False,
                         hoverinfo="skip", xaxis="x7", yaxis="y8"))

narrow = "Liberation Sans Narrow, Liberation Sans, Arial"
sans = "Liberation Sans, Arial"
off = dict(showgrid=False, zeroline=False)
hidden = dict(visible=False, showgrid=False, zeroline=False)
fig.update_layout(
    width=W, height=H, autosize=False, margin=dict(l=0, r=0, t=0, b=0, pad=0, autoexpand=False), paper_bgcolor="white", plot_bgcolor="white",
    showlegend=False, font=dict(family=sans, color="#222222"),
    xaxis=dict(domain=dx(188.6, 2326.6), range=[242, 2985], anchor="y", tickmode="array", tickvals=chrom_ticks, ticktext=chrom_labels,
               ticks="outside", ticklen=19, tickwidth=2, tickcolor="#444444", ticklabelstandoff=3,
               tickangle=0, tickfont=dict(family=narrow, size=29, color="#111111", weight="bold"), **off),
    yaxis=dict(domain=dy(37, 884), range=[-0.828, 9], anchor="x", tickmode="array", tickvals=[0, 2, 4, 6, 8],
               ticks="outside", ticklen=19, tickwidth=2, tickcolor="#444444", ticklabelstandoff=10,
               tickfont=dict(family=narrow, size=29, color="#111111", weight="bold"), **off),
    xaxis2=dict(domain=dx(2325, 2360), range=[-0.5, 0.5], anchor="y2", **hidden),
    yaxis2=dict(domain=dy(78, 434), range=[11.5, -0.5], anchor="x2", side="right", tickmode="array",
                tickvals=[k + 0.12 for k in range(12)], ticktext=level_labels, ticks="", ticklabelstandoff=2,
                tickfont=dict(family=sans, size=21, color="#333333"), **off),
    xaxis3=dict(domain=dx(196, 876), range=[-0.279, 7.3], anchor="y3", tickmode="array", tickvals=list(range(8)),
                ticks="outside", ticklen=19, tickwidth=2, tickcolor="#555555", ticklabelstandoff=8,
                tickfont=dict(size=27, color="#333333"), **off),
    yaxis3=dict(domain=dy(1270, 1874), range=[-0.366, 8.3], anchor="x3", tickmode="array", tickvals=[0, 2, 4, 6, 8],
                ticks="outside", ticklen=19, tickwidth=2, tickcolor="#555555", ticklabelstandoff=8,
                tickfont=dict(size=27, color="#333333"), **off),
    xaxis4=dict(domain=dx(1036.6, 2304), range=[137.767, 138.2134], anchor="y4", showticklabels=False, ticks="", **off),
    yaxis4=dict(domain=dy(1051, 1812.7), range=[-5.07, 105], anchor="x4", side="right", tickmode="array", tickvals=list(range(0, 101, 20)),
                ticks="outside", ticklen=16, tickwidth=2, tickcolor="#9090e8", ticklabelstandoff=8,
                tickfont=dict(size=25, color="#3030ff"), **off),
    yaxis5=dict(range=[-0.507, 10.5], overlaying="y4", anchor="x4", side="left", tickmode="array", tickvals=list(range(0, 11, 2)),
                ticks="outside", ticklen=15, tickwidth=2, tickcolor="#888888", ticklabelstandoff=8,
                tickfont=dict(size=25, color="#555555"), **off),
    xaxis5=dict(domain=dx(1036.6, 2304), range=[137.767, 138.2134], anchor="y6", **hidden),
    yaxis6=dict(domain=dy(990, 1018), range=[0, 1], anchor="x5", **hidden),
    xaxis6=dict(domain=dx(1036.6, 2304), range=[137.767, 138.2134], anchor="y7", tickmode="array", tickvals=[137.8, 137.9, 138, 138.1, 138.2],
                ticktext=["137.8", "137.9", "138", "138.1", "138.2"], ticks="outside", ticklen=17, tickwidth=2, tickcolor="#777777",
                ticklabelstandoff=12, tickfont=dict(size=25, color="#555555"), **off),
    yaxis7=dict(domain=dy(1843, 1946), range=[0, 1], anchor="x6", **hidden),
    xaxis7=dict(domain=dx(2200, 2226), range=[-0.5, 0.5], anchor="y8", **hidden),
    yaxis8=dict(domain=dy(1109, 1305), range=[0, 1], anchor="x7", side="right", tickmode="array", tickvals=[0.2, 0.4, 0.6, 0.8],
                ticks="outside", ticklen=12, tickwidth=2, tickcolor="#666666", ticklabelstandoff=6,
                tickfont=dict(size=20, color="#666666"), **off),
)


def line(x0, y0, x1, y1, xref, yref, color, width, dash="solid"):
    fig.add_shape(type="line", x0=x0, y0=y0, x1=x1, y1=y1, xref=xref, yref=yref, layer="above",
                  line=dict(color=color, width=width, dash=dash))


def frame(left, top, right, bottom, color, width):
    fig.add_shape(type="rect", x0=left / W, x1=right / W, y0=1 - bottom / H, y1=1 - top / H, xref="paper", yref="paper",
                  layer="above", line=dict(color=color, width=width))


def note(px, py, text, size, color="#222222", angle=0, family=sans, anchor="center"):
    fig.add_annotation(x=px / W, y=1 - py / H, xref="paper", yref="paper", text=text, showarrow=False, textangle=angle,
                       xanchor=anchor, yanchor="middle", font=dict(size=size, color=color, family=family))


# panel A rules
line(242, 0, 242, 9, "x", "y", "#333333", 2.5)
line(242, -0.828, 2956, -0.828, "x", "y", "#333333", 2.5)
line(242, 7.3, 2956, 7.3, "x", "y", "#333333", 2.5)
line(242, 4.3, 2956, 4.3, "x", "y", "#c8c8c8", 2.5, "dash")

# panel B rules
line(-0.279, 0, -0.279, 8, "x3", "y3", "#555555", 2.5)
line(0, -0.366, 7, -0.366, "x3", "y3", "#555555", 2.5)

# panel C frames
frame(1036.6, 1051, 2304, 1812.7, "#aaaaaa", 3)
frame(1036.6, 1843, 2304, 1946, "#c8c8c8", 3)
line(137.767, 0, 138.2134, 0, "x6", "y7", "#777777", 3)
frame(2185, 1064, 2292, 1318, "#777777", 2.5)
for v in r2_edges[1:-1]:
    line(-0.5, v, 0.5, v, "x7", "y8", "#555555", 2)

note(51, 50, "A", 72, "#111111")
note(51, 1021, "B", 72, "#111111")
note(803, 1024, "C", 72, "#111111")
note(45, 444, "−log<sub>10</sub>(<i>p</i>)", 50, "#222222", -90)
note(52, 1535, "Observed  −log<sub>10</sub>(<i>p</i>)", 47, "#222222", -90)
note(534, 2022, "Expected  −log<sub>10</sub>(<i>p</i>)", 47, "#222222")
note(1029.5, 1004, "Plotted SNPs", 23, "#444444", anchor="right")
note(941, 1431, "−log<sub>10</sub>(p−value)", 23, "#555555", -90)
note(2398, 1412, "Recombination rate (cM/Mb)", 23, "#4040ff", 90)
note(1506.5, 1210, "rs7869470", 25, "#222222")
note(2237, 1087, "r<sup>2</sup>", 24, "#444444")
note(1670, 2033, "Position on chr9 (Mb)", 24, "#555555")
note(1044, 1863, "<i>FCN2</i><b>→</b>", 22, "#222222", anchor="left")
note(1103, 1915, "<b>←</b><i>FCN1</i>", 22, "#222222", anchor="left")
note(1624, 1863, "<i>OLFM1</i><b>→</b>", 22, "#222222", anchor="left")
note(1845, 1863, "<i>LOC401557</i><b>→</b>", 22, "#222222", anchor="left")

fig.write_html("out.html", config={"displayModeBar": False}, post_script="document.body.style.margin='0';")
